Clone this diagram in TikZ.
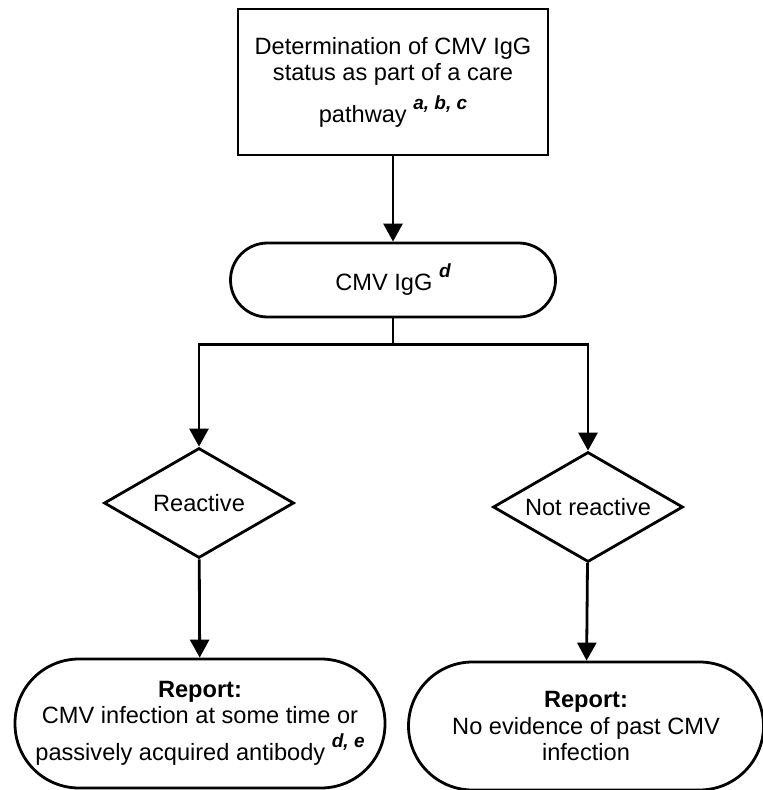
\documentclass[tikz,border=0pt]{standalone}
\usepackage{fontspec}
\setmainfont{Liberation Sans}
\usepackage{tikz}
\usetikzlibrary{arrows.meta,shapes.geometric}
\newcommand{\supnote}[1]{\raisebox{6.5pt}{\fontsize{9.5}{10}\selectfont\bfseries\itshape #1}}

\begin{document}
\begin{tikzpicture}[x=0.5pt,y=0.5pt,line width=1.4pt,
  every node/.style={font=\fontsize{11.8}{13.25}\selectfont,align=center,inner sep=0pt},
  choice/.style={draw,diamond,shape aspect=1.7,minimum width=95pt,minimum height=55pt},
  arr/.style={-{Triangle[width=9.5pt,length=9pt]}}]
  \useasboundingbox (0,0) rectangle (763,-790);
  \node[draw,minimum width=155pt,minimum height=73pt] (care) at (393,-82){Determination of CMV IgG\\status as part of a care\\[4pt]pathway \supnote{a, b, c}};
  \node[draw,rounded corners=18.5pt,minimum width=162.5pt,minimum height=37pt] (igg) at (393,-280){CMV IgG \supnote{d}};
  \node[choice] (react) at (199,-503){Reactive};
  \node[choice] (notreact) at (588,-507){Not reactive};
  \node[draw,rounded corners=32pt,minimum width=185pt,minimum height=64.5pt] (pos) at (200,-723.5){\textbf{Report:}\\CMV infection at some time or\\[4pt]passively acquired antibody \supnote{d, e}};
  \node[draw,rounded corners=32pt,minimum width=177.5pt,minimum height=64pt] (neg) at (586,-726){\textbf{Report:}\\No evidence of past CMV\\infection};
  \draw[arr] (care) -- (igg);
  \draw (igg.south) -- ++(0,-26) coordinate (fork);
  \draw[arr] (fork) -| (react.north); \draw[arr] (fork) -| (notreact.north);
  \draw[arr] (react) -- (pos); \draw[arr] (notreact) -- (neg);
\end{tikzpicture}
\end{document}
